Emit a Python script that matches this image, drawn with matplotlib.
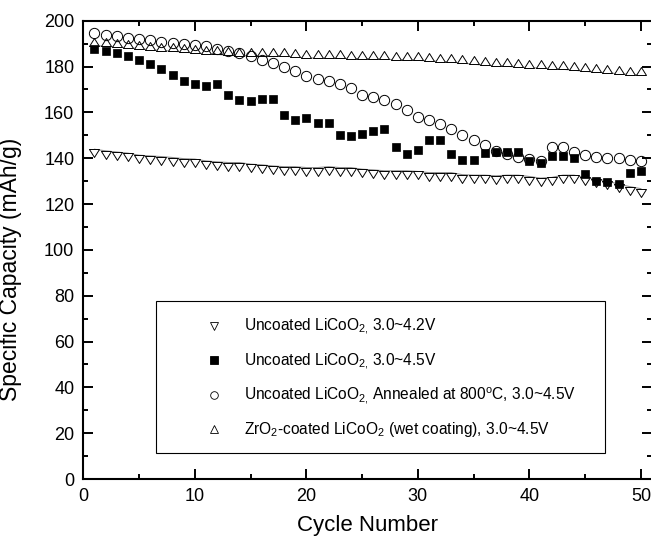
import numpy as np
import matplotlib
matplotlib.use('Agg')
import matplotlib.pyplot as plt
from matplotlib.lines import Line2D
from matplotlib.patches import Rectangle
#=============================================================================
# Cycling of LiCoO2 cathodes, specific capacity vs cycle number
plt.rcParams['font.family']      = ['Liberation Sans', 'DejaVu Sans']
plt.rcParams['mathtext.fontset'] = 'custom'
plt.rcParams['mathtext.rm']      = 'Liberation Sans'
plt.rcParams['mathtext.it']      = 'Liberation Sans:italic'

cycles = np.arange(1, 51)

# uncoated LiCoO2, 3.0~4.2V (down triangles)
cap_42 = [143.9, 143.2, 142.7, 142.2, 141.3, 141.0, 140.7, 140.3, 139.8, 139.6,
          138.8, 138.4, 138.1, 138.1, 137.4, 137.1, 136.6, 136.3, 136.3, 135.9,
          135.9, 136.3, 135.9, 135.9, 135.2, 134.9, 134.5, 134.5, 134.5, 134.2,
          133.7, 133.7, 133.7, 132.8, 132.6, 132.6, 132.3, 132.6, 132.6, 132.0,
          131.3, 131.6, 132.6, 132.6, 131.6, 130.8, 130.1, 128.6, 127.6, 126.7]

# uncoated LiCoO2, 3.0~4.5V (filled squares)
cap_45 = [187.6, 186.9, 185.9, 184.4, 182.7, 181.1, 178.9, 176.4, 173.5, 172.3,
          171.7, 172.5, 167.7, 165.5, 164.8, 165.8, 165.8, 159.0, 156.5, 157.5,
          155.3, 155.3, 150.2, 149.5, 150.7, 151.7, 152.8, 145.1, 141.9, 143.7,
          148.0, 148.0, 141.8, 139.3, 139.3, 142.2, 142.9, 142.7, 142.9, 138.6,
          138.0, 141.0, 141.0, 140.0, 133.2, 130.1, 129.5, 128.8, 133.5, 134.6]

# uncoated LiCoO2 annealed at 800C, 3.0~4.5V (open circles)
cap_ann = [194.6, 193.9, 193.2, 192.4, 192.0, 191.4, 190.7, 190.2, 190.0, 189.5,
           188.8, 187.8, 186.9, 185.9, 184.4, 183.0, 181.7, 180.0, 177.9, 175.7,
           174.5, 173.5, 172.5, 170.6, 167.7, 166.5, 165.5, 163.6, 161.1, 158.2,
           156.8, 154.9, 152.7, 150.2, 148.0, 145.9, 143.2, 141.8, 140.7, 139.6,
           138.6, 144.7, 144.7, 142.9, 141.5, 140.5, 140.3, 140.3, 139.3, 138.6]

# ZrO2-coated LiCoO2 (wet coating), 3.0~4.5V (up triangles)
cap_zr = [189.1, 188.8, 188.5, 188.2, 187.8, 187.3, 187.0, 186.7, 186.3, 185.9,
          185.6, 185.3, 184.9, 184.7, 184.8, 184.8, 184.8, 184.5, 184.2, 183.7,
          183.7, 183.6, 183.6, 183.5, 183.5, 183.3, 183.2, 183.0, 182.8, 182.7,
          182.5, 182.2, 181.9, 181.5, 181.0, 180.6, 180.3, 180.1, 179.8, 179.5,
          179.3, 179.1, 178.8, 178.4, 177.9, 177.6, 177.2, 176.9, 176.5, 176.2]

labels = ['Uncoated LiCoO$_{2,}\\,$3.0~4.2V',
          'Uncoated LiCoO$_{2,}\\,$3.0~4.5V',
          'Uncoated LiCoO$_{2,}\\,$Annealed at 800$^{\\rm o}$C, 3.0~4.5V',
          'ZrO$_2$-coated LiCoO$_2$ (wet coating), 3.0~4.5V']

# triangles sitting on the data point (flat side on the point)
TRI_UP   = [(-1, 0), (1, 0), (0, 1.6), (-1, 0)]
TRI_DOWN = [(-1, 0), (1, 0), (0, -1.6), (-1, 0)]

#-----------------------------------------------------------------------------
fig = plt.figure(figsize=(6.51, 5.41), dpi=100)
ax  = fig.add_axes([0.128, 0.1146, 0.8736, 0.8471])

ax.plot(cycles, cap_42, color='0.55', lw=0.8, zorder=2)
ax.plot(cycles, cap_42, ls='none', marker=TRI_DOWN, ms=11.5, mfc='white',
        mec='black', mew=0.7, zorder=3)
ax.plot(cycles, cap_zr, color='0.55', lw=0.8, zorder=2)
ax.plot(cycles, cap_zr, ls='none', marker=TRI_UP, ms=11.5, mfc='white',
        mec='black', mew=0.7, zorder=3)
ax.plot(cycles, cap_45, ls='none', marker='s', ms=6.3, mfc='black',
        mec='black', mew=0.5, zorder=4)
ax.plot(cycles, cap_ann, ls='none', marker='o', ms=7.4, mfc='none',
        mec='black', mew=0.7, zorder=5)

ax.set_xlim(0, 51)
ax.set_ylim(0, 200)
ax.set_xticks(np.arange(0, 51, 10))
ax.set_xticks(np.arange(0, 51, 5), minor=True)
ax.set_yticks(np.arange(0, 201, 20))
ax.set_yticks(np.arange(0, 201, 10), minor=True)
ax.tick_params(which='both', direction='in', top=True, right=True,
               labelsize=13, pad=6.5)
ax.tick_params(which='major', length=7, width=1.4)
ax.tick_params(which='minor', length=3.6, width=1.4)
for sp in ax.spines.values():
    sp.set_linewidth(1.5)

ax.set_xlabel('Cycle Number', fontsize=16)
ax.set_ylabel('Specific Capacity (mAh/g)', fontsize=16.5)
ax.xaxis.set_label_coords(0.5, -0.078)
ax.yaxis.set_label_coords(-0.107, 0.458)

# legend: frame drawn separately, entries inside
ax.add_patch(Rectangle((0.128, 0.0567), 0.789, 0.332, transform=ax.transAxes,
                       fill=True, fc='white', ec='black', lw=0.8, zorder=6))
handles = [Line2D([], [], ls='none', marker=m, ms=5.5, mfc=f, mec='black',
                  mew=0.6)
           for m, f in zip(['v', 's', 'o', '^'],
                           ['white', 'black', 'white', 'white'])]
leg = ax.legend(handles, labels, loc='upper left',
                bbox_to_anchor=(0.2165, 0.3535), frameon=False, fontsize=11.2,
                handlelength=1.0, handletextpad=1.4, borderpad=0,
                borderaxespad=0, labelspacing=0.9)
leg.set_zorder(7)

fig.savefig('out.png', dpi=100)
